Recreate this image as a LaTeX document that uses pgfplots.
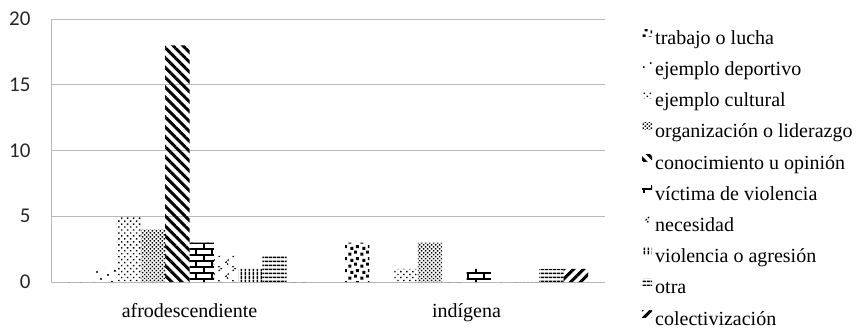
\documentclass[border=0pt]{standalone}
\usepackage{pgfplots}
\pgfplotsset{compat=1.18}
\usepackage{fontspec}
\setmainfont{Liberation Serif}
\newfontfamily\tickfont{Carlito}
\usetikzlibrary{patterns,patterns.meta}

% large brick pattern
\pgfdeclarepattern{name=bigbricks, type=uncolored,
  bottom left={\pgfpoint{-1bp}{-1bp}}, top right={\pgfpoint{17bp}{13bp}},
  tile size={\pgfpoint{16bp}{12bp}},
  code={
    \pgfsetlinewidth{2.4bp}
    \pgfpathmoveto{\pgfpoint{-1bp}{1.2bp}}\pgfpathlineto{\pgfpoint{17bp}{1.2bp}}
    \pgfpathmoveto{\pgfpoint{-1bp}{7.2bp}}\pgfpathlineto{\pgfpoint{17bp}{7.2bp}}
    \pgfpathmoveto{\pgfpoint{4bp}{1.2bp}}\pgfpathlineto{\pgfpoint{4bp}{7.2bp}}
    \pgfpathmoveto{\pgfpoint{12bp}{7.2bp}}\pgfpathlineto{\pgfpoint{12bp}{13.2bp}}
    \pgfusepath{stroke}}}

% coarse blotches
\pgfdeclarepattern{name=blotches, type=uncolored,
  bottom left={\pgfpoint{0bp}{0bp}}, top right={\pgfpoint{12bp}{12bp}},
  tile size={\pgfpoint{12bp}{12bp}},
  code={
    \pgfpathrectangle{\pgfpoint{0.5bp}{0.5bp}}{\pgfpoint{3.2bp}{3.2bp}}
    \pgfpathrectangle{\pgfpoint{6.5bp}{2.5bp}}{\pgfpoint{3.2bp}{3.2bp}}
    \pgfpathrectangle{\pgfpoint{2.5bp}{6.5bp}}{\pgfpoint{3.2bp}{3.2bp}}
    \pgfpathrectangle{\pgfpoint{8.5bp}{8.5bp}}{\pgfpoint{3.2bp}{3.2bp}}
    \pgfusepath{fill}}}

% sparse chevrons
\pgfdeclarepattern{name=chevrons, type=uncolored,
  bottom left={\pgfpoint{0bp}{0bp}}, top right={\pgfpoint{14bp}{14bp}},
  tile size={\pgfpoint{14bp}{14bp}},
  code={
    \pgfsetlinewidth{1.3bp}
    \pgfsetdash{{1.5bp}{1.5bp}}{0bp}
    \pgfpathmoveto{\pgfpoint{5bp}{13bp}}\pgfpathlineto{\pgfpoint{2bp}{10bp}}\pgfpathlineto{\pgfpoint{5bp}{7bp}}
    \pgfpathmoveto{\pgfpoint{9bp}{6bp}}\pgfpathlineto{\pgfpoint{12bp}{3.5bp}}\pgfpathlineto{\pgfpoint{9bp}{1bp}}
    \pgfusepath{stroke}}}

\begin{document}
\begin{tikzpicture}
\path[use as bounding box] (-51bp,-46bp) rectangle (817bp,282bp);
\begin{axis}[
  at={(0,0)}, anchor=south west,
  scale only axis, width=554bp, height=263bp,
  xmin=-0.5, xmax=1.5, ymin=0, ymax=20,
  xtick={0,1}, xticklabels={afrodescendiente, indígena},
  ytick={0,5,10,15,20},
  major tick length=0pt,
  axis lines*=left,
  axis line style={draw=gray!55, line width=0.9bp},
  ymajorgrids, grid style={draw=gray!55, line width=0.9bp},
  yticklabel style={font=\tickfont\fontsize{21bp}{24bp}\selectfont, text=black!85, xshift=-17bp},
  xticklabel style={font=\fontsize{20bp}{24bp}\selectfont, yshift=-18bp},
  /pgf/number format/assume math mode=true,
  ybar=0pt, bar width=24.3bp,
  legend cell align=left,
  legend style={at={(axis description cs:1.0614,0.9694)}, anchor=north west,
    draw=none, fill=none, font=\fontsize{20bp}{24bp}\selectfont,
    nodes={inner sep=0pt, text height=15bp, text depth=5bp},
    row sep=11.2bp, column sep=3bp},
  legend image code/.code={\path[#1,draw=none] (0bp,3bp) rectangle (10bp,10bp);},
  every axis plot/.append style={draw=none},
]
\addplot[pattern=blotches] coordinates {(0,0) (1,3)};
\addlegendentry{trabajo o lucha}
\addplot[pattern={Dots[radius=1.1bp, distance=8bp, angle=30]}] coordinates {(0,1) (1,0)};
\addlegendentry{ejemplo deportivo}
\addplot[pattern={Dots[radius=1.0bp, distance=4.2bp, angle=45]}] coordinates {(0,5) (1,1)};
\addlegendentry{ejemplo cultural}
\addplot[pattern={Dots[radius=1.05bp, distance=2.8bp, angle=45]}] coordinates {(0,4) (1,3)};
\addlegendentry{organización o liderazgo}
\addplot[pattern={Lines[angle=-45, distance=7bp, line width=3bp]}] coordinates {(0,18) (1,0)};
\addlegendentry{conocimiento u opinión}
\addplot[pattern=bigbricks] coordinates {(0,3) (1,1)};
\addlegendentry{víctima de violencia}
\addplot[pattern=chevrons] coordinates {(0,2) (1,0)};
\addlegendentry{necesidad}
\addplot[pattern={Lines[angle=90, distance=3.6bp, line width=1.6bp]}] coordinates {(0,1) (1,0)};
\addlegendentry{violencia o agresión}
\addplot[pattern={Lines[angle=0, distance=3.6bp, line width=1.6bp]}] coordinates {(0,2) (1,1)};
\addlegendentry{otra}
\addplot[pattern={Lines[angle=45, distance=7bp, line width=3bp]}] coordinates {(0,0) (1,1)};
\addlegendentry{colectivización}
\end{axis}
\end{tikzpicture}
\end{document}
